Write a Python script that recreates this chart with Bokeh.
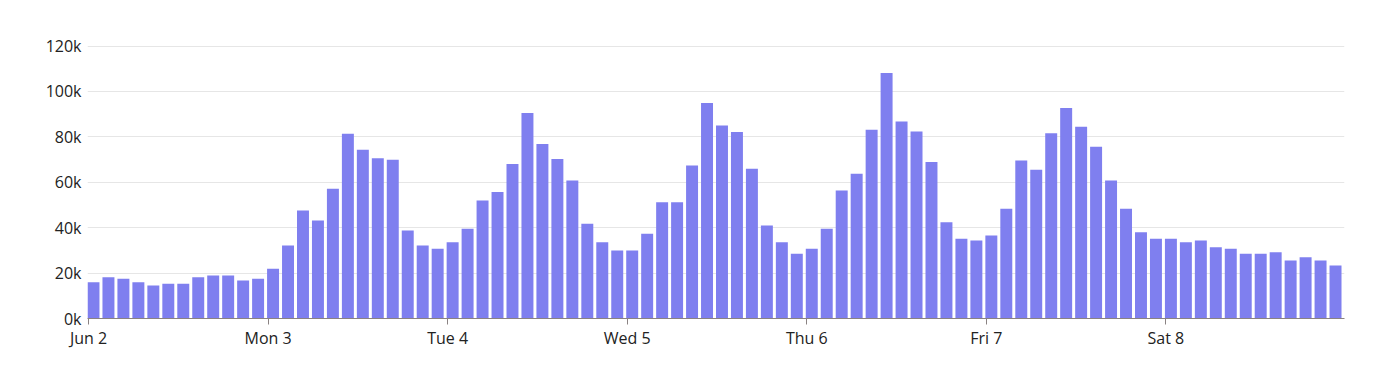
from datetime import datetime, timedelta
from bokeh.plotting import figure
from bokeh.models import FixedTicker, Range1d, CustomJSTickFormatter
from bokeh.embed import file_html
from bokeh.resources import INLINE

start = datetime(2024, 6, 2)
bin_hours = 2

values = [
    16.0, 18.2, 17.5, 16.0, 14.5, 15.3, 15.3, 18.2, 18.9, 18.9, 16.7, 17.5,
    21.9, 32.2, 47.6, 43.2, 57.1, 81.4, 74.3, 70.6, 69.9, 38.8, 32.2, 30.7,
    33.6, 39.5, 52.0, 55.7, 68.1, 90.5, 76.9, 70.3, 60.8, 41.7, 33.6, 30.0,
    30.0, 37.3, 51.2, 51.2, 67.4, 94.9, 85.0, 82.1, 65.9, 41.0, 33.6, 28.5,
    30.7, 39.5, 56.4, 63.7, 83.1, 108.1, 86.8, 82.4, 68.9, 42.4, 35.1, 34.4,
    36.6, 48.3, 69.6, 65.5, 81.6, 92.7, 84.4, 75.6, 60.8, 48.3, 38.0, 35.1,
    35.1, 33.6, 34.4, 31.4, 30.7, 28.5, 28.5, 29.2, 25.6, 27.0, 25.6, 23.3,
]
values = [v * 1000 for v in values]

day_labels = ["Jun 2", "Mon 3", "Tue 4", "Wed 5", "Thu 6", "Fri 7", "Sat 8"]
y_ticks = [0, 20000, 40000, 60000, 80000, 100000, 120000]

times = [start + timedelta(hours=bin_hours * i) for i in range(len(values))]
offset = timedelta(minutes=40)
centers = [t + offset for t in times]
bar_width_ms = 96 * 60 * 1000

def ms(d):
    return (d - datetime(1970, 1, 1)).total_seconds() * 1000

day_ticks = [ms(start + timedelta(days=i)) for i in range(len(day_labels))]

x0 = ms(start - timedelta(minutes=8))
x1 = ms(start + timedelta(hours=bin_hours * len(values)) - timedelta(minutes=8))

p = figure(width=1392, height=360, output_backend="svg", toolbar_location=None,
           x_axis_type="datetime",
           x_range=Range1d(x0, x1), y_range=Range1d(0, 122000),
           min_border_left=87, min_border_right=48, min_border_top=41, min_border_bottom=42)
p.outline_line_color = None
p.background_fill_color = "white"
p.border_fill_color = "white"

p.vbar(x=[ms(c) for c in centers], top=values, width=bar_width_ms,
       fill_color="#7f7fef", line_color=None)

font = "Open Sans"
p.xaxis.ticker = FixedTicker(ticks=day_ticks)
p.xaxis.major_label_overrides = {t: l for t, l in zip(day_ticks, day_labels)}
p.xaxis.minor_tick_line_color = None
p.xaxis.axis_line_color = "#8a8282"
p.xaxis.major_tick_line_color = "#8a8282"
p.xaxis.major_tick_out = 6
p.xaxis.major_tick_in = 0
p.xaxis.major_label_standoff = 2
p.xaxis.major_label_text_font = font
p.xaxis.major_label_text_font_size = "16px"
p.xaxis.major_label_text_color = "#222222"

p.yaxis.ticker = FixedTicker(ticks=y_ticks)
p.yaxis.formatter = CustomJSTickFormatter(code="return (tick/1000).toFixed(0) + 'k';")
p.yaxis.axis_line_color = None
p.yaxis.major_tick_line_color = None
p.yaxis.minor_tick_line_color = None
p.yaxis.major_tick_out = 0
p.yaxis.major_tick_in = 0
p.yaxis.major_label_standoff = 6
p.yaxis.major_label_text_font = font
p.yaxis.major_label_text_font_size = "16px"
p.yaxis.major_label_text_color = "#222222"

p.xgrid.grid_line_color = None
p.ygrid.ticker = FixedTicker(ticks=y_ticks)
p.ygrid.grid_line_color = "#e6e6e6"
p.ygrid.grid_line_width = 1

open("out.html", "w").write(file_html(p, INLINE))
